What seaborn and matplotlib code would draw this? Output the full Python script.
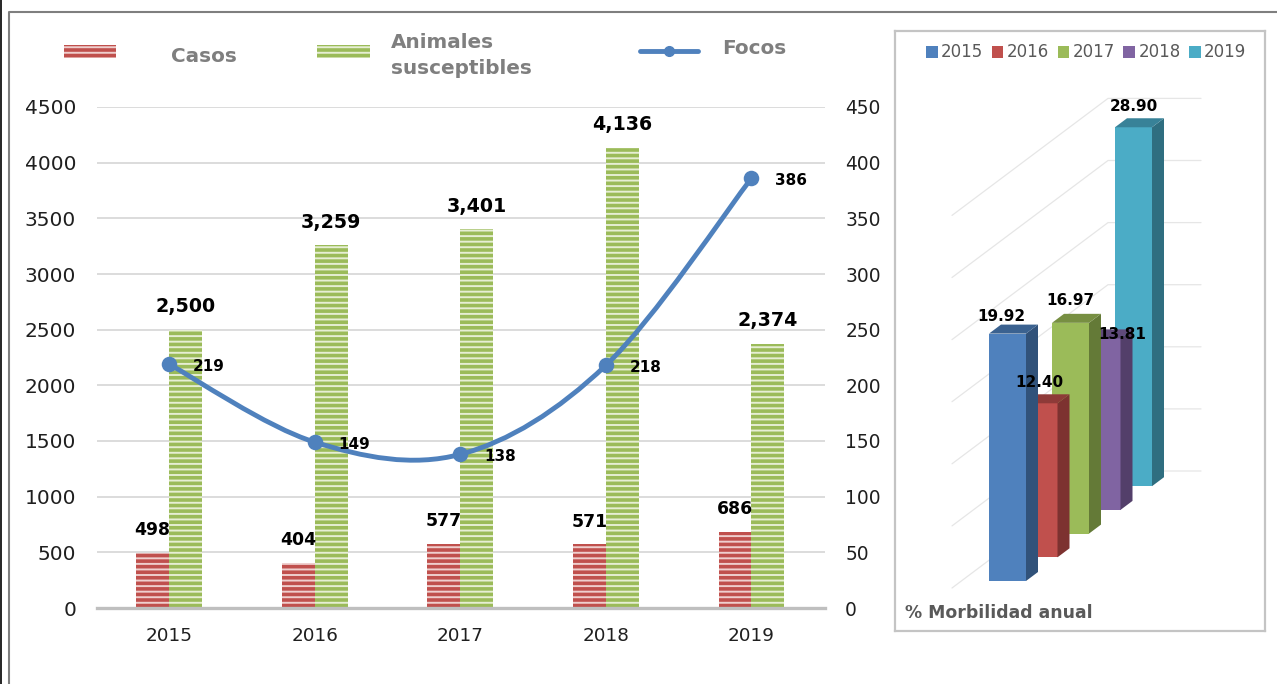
"""Casos, animales susceptibles y focos por año, con panel de morbilidad anual."""

import matplotlib
matplotlib.use("Agg")
import matplotlib.pyplot as plt
from matplotlib.patches import PathPatch, Polygon, Rectangle
from matplotlib.path import Path
import numpy as np
import pandas as pd
import seaborn as sns

years = ["2015", "2016", "2017", "2018", "2019"]
casos = [498, 404, 577, 571, 686]
susceptibles = [2500, 3259, 3401, 4136, 2374]
focos = [219, 149, 138, 218, 386]
morbilidad = [19.92, 12.40, 16.97, 13.81, 28.90]
left_ticks = [0, 500, 1000, 1500, 2000, 2500, 3000, 3500, 4000, 4500]
right_ticks = [0, 50, 100, 150, 200, 250, 300, 350, 400, 450]

W, H = 1277, 684
RED, RED_HATCH = "#C0504D", "#EFCFCE"
GREEN, GREEN_HATCH = "#9BBB59", "#E6EED3"
BLUE = "#4F81BD"
# front, side, top colours of the 3D columns
panel_colors = [
    ("#4F81BD", "#31527A", "#3B6290"),
    ("#C0504D", "#7D3230", "#8E3A38"),
    ("#9BBB59", "#647A37", "#778F42"),
    ("#8064A2", "#533F6A", "#604A7B"),
    ("#4BACC6", "#2F6E80", "#388298"),
]
# label offsets in pixels from the top of each column's front face
panel_label_dx = [-6, 0, 0, 20, 0]
panel_label_dy = [17, 21, 22, 4, 21]

sns.set_theme(style="white")
plt.rcParams["font.family"] = ["DejaVu Sans"]
plt.rcParams["hatch.linewidth"] = 1.4


def px_axes(fig, x0, y0, x1, y1, **kw):
    return fig.add_axes([x0 / W, 1 - y1 / H, (x1 - x0) / W, (y1 - y0) / H], **kw)


def smooth_path(xs, ys):
    """Bezier path through the points, same look as a smoothed office chart line."""
    pts = np.column_stack([xs, ys]).astype(float)
    verts = [pts[0]]
    codes = [Path.MOVETO]
    n = len(pts)
    for i in range(n - 1):
        before = pts[max(i - 1, 0)]
        after = pts[min(i + 2, n - 1)]
        verts += [pts[i] + (pts[i + 1] - before) / 6,
                  pts[i + 1] - (after - pts[i]) / 6,
                  pts[i + 1]]
        codes += [Path.CURVE4] * 3
    return Path(verts, codes)


fig = plt.figure(figsize=(W / 100, H / 100), dpi=100)

# overlay in pixel coordinates for frame and hand placed legend
bg = px_axes(fig, 0, 0, W, H)
bg.set_xlim(0, W)
bg.set_ylim(H, 0)
bg.axis("off")
bg.plot([8.5, 8.5, W], [H, 11.5, 11.5], color="#7F7F7F", lw=1.5)
bg.plot([0.7, 0.7], [0, H], color="black", lw=1.2)
bg.add_patch(Rectangle((64, 45), 52, 13, facecolor=RED, edgecolor=RED_HATCH, lw=0, hatch="---"))
bg.add_patch(Rectangle((317, 45), 53, 13, facecolor=GREEN, edgecolor=GREEN_HATCH, lw=0, hatch="---"))
bg.plot([640, 698], [51, 51], color=BLUE, lw=3.5, solid_capstyle="round")
bg.plot([669], [51], "o", color=BLUE, ms=7)
legend_style = dict(color="#7F7F7F", fontweight="bold", fontsize=14.4, va="center", ha="left")
bg.text(171, 56, "Casos", **legend_style)
bg.text(391, 43, "Animales", **legend_style)
bg.text(391, 69, "susceptibles", **legend_style)
bg.text(722, 49, "Focos", **legend_style)

# main chart
ax = px_axes(fig, 97, 107, 825, 608)
ax.patch.set_alpha(0)
df = pd.DataFrame({
    "year": years * 2,
    "value": casos + susceptibles,
    "serie": ["Casos"] * 5 + ["Animales susceptibles"] * 5,
})
sns.barplot(data=df, x="year", y="value", hue="serie", palette=[RED, GREEN], width=0.452,
            saturation=1, gap=0, legend=False, ax=ax, zorder=2)
for container, hatch_color in zip(ax.containers, [RED_HATCH, GREEN_HATCH]):
    for bar in container:
        bar.set_hatch("---")
        bar.set_edgecolor(hatch_color)
        bar.set_linewidth(0)
        ax.annotate(f"{int(bar.get_height()):,}", (bar.get_x() + bar.get_width() / 2, bar.get_height()),
                    xytext=(0, 16.5), textcoords="offset points", ha="center", va="center",
                    fontweight="bold", color="black",
                    fontsize=13.7 if hatch_color == GREEN_HATCH else 12.4, zorder=6)
ax.set_xlim(-0.495, 4.505)
ax.set_ylim(0, 4500)
ax.set_yticks(left_ticks)
ax.set_xlabel("")
ax.set_ylabel("")
ax.grid(axis="y", color="#D9D9D9", lw=1.3)
ax.set_axisbelow(True)
ax.tick_params(axis="y", length=0, pad=15, labelsize=14.5, labelcolor="#1F1F1F")
ax.tick_params(axis="x", length=0, pad=14, labelsize=13.2, labelcolor="#1F1F1F")
for side in ["top", "left", "right"]:
    ax.spines[side].set_visible(False)
ax.spines["bottom"].set_color("#BFBFBF")
ax.spines["bottom"].set_linewidth(2.4)

ax2 = ax.twinx()
ax2.set_position(ax.get_position())
ax2.set_ylim(0, 450)
ax2.set_yticks(right_ticks)
ax2.tick_params(axis="y", length=0, pad=14.5, labelsize=13.4, labelcolor="#1F1F1F")
ax2.grid(False)
for spine in ax2.spines.values():
    spine.set_visible(False)
xpos = np.arange(len(years))
ax2.add_patch(PathPatch(smooth_path(xpos, focos), facecolor="none", edgecolor=BLUE, lw=3.5,
                        capstyle="round", zorder=3))
sns.scatterplot(x=xpos, y=focos, color=BLUE, s=125, linewidth=0, ax=ax2, zorder=4, legend=False)
ax2.set_ylabel("")
for x, y in zip(xpos, focos):
    ax2.annotate(str(y), (x, y), xytext=(28.5, -1.5), textcoords="offset points", ha="center",
                 va="center", fontweight="bold", fontsize=11, color="black", zorder=6)

# 3D looking panel: x in pixels, y in percentage units
PX_PER_UNIT = 12.42
BASE_Y = 581
ax3 = px_axes(fig, 895, 31, 1265, 631)
ax3.set_xlim(895, 1265)
ax3.set_ylim((BASE_Y - 631) / PX_PER_UNIT, (BASE_Y - 31) / PX_PER_UNIT)
ax3.set_xticks([])
ax3.set_yticks([])
for spine in ax3.spines.values():
    spine.set_color("#C4C4C4")
    spine.set_linewidth(1.6)

floor = -7 / PX_PER_UNIT
wall = 117 / PX_PER_UNIT
for level in range(0, 31, 5):
    y0 = floor + level
    ax3.plot([952, 1108, 1201], [y0, y0 + wall, y0 + wall], color="#E6E6E6", lw=0.9, zorder=1)

bar_w = 37
step_x = 31.5
step_y = 23.7 / PX_PER_UNIT
side_x = 12
side_y = 9 / PX_PER_UNIT
for i in reversed(range(len(morbilidad))):
    v = morbilidad[i]
    x0 = 989 + i * step_x
    b = i * step_y
    t = b + v
    front, side, top = panel_colors[i]
    ax3.add_patch(Polygon([(x0, b), (x0 + bar_w, b), (x0 + bar_w, t), (x0, t)], color=front, lw=0, zorder=2))
    ax3.add_patch(Polygon([(x0 + bar_w, b), (x0 + bar_w + side_x, b + side_y),
                           (x0 + bar_w + side_x, t + side_y), (x0 + bar_w, t)], color=side, lw=0, zorder=2))
    ax3.add_patch(Polygon([(x0, t), (x0 + bar_w, t), (x0 + bar_w + side_x, t + side_y),
                           (x0 + side_x, t + side_y)], color=top, lw=0, zorder=2))
for i, v in enumerate(morbilidad):
    x0 = 989 + i * step_x + bar_w / 2 + panel_label_dx[i]
    y0 = i * step_y + v + panel_label_dy[i] / PX_PER_UNIT
    ax3.text(x0, y0, f"{v:.2f}", ha="center", va="center", fontweight="bold", fontsize=11,
             color="black", zorder=5)

# panel legend and caption, placed in pixels on the overlay
bg.set_zorder(5)
for i, year in enumerate(years):
    x0 = 926 + i * 65.75
    bg.add_patch(Rectangle((x0, 46), 11.5, 11.5, color=panel_colors[i][0], lw=0))
    bg.text(x0 + 15, 52, year, color="#595959", fontsize=12, va="center", ha="left")
bg.text(905, 612.5, "% Morbilidad anual", color="#595959", fontweight="bold", fontsize=12.4,
        va="center", ha="left")

fig.savefig("out.png", dpi=100)
